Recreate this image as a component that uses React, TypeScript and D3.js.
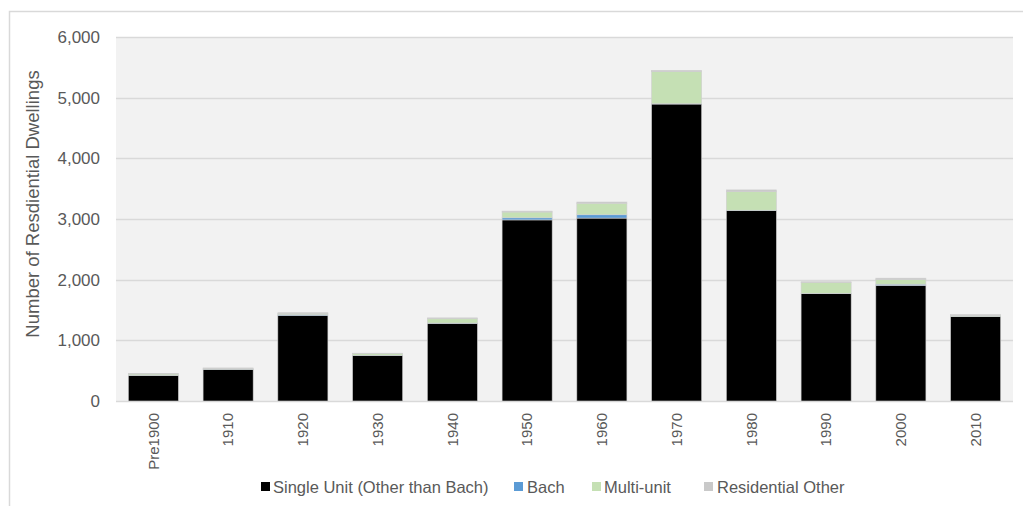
import React from "react";
import * as d3 from "d3";

// Decades of construction
const categories = ["Pre1900", "1910", "1920", "1930", "1940", "1950", "1960", "1970", "1980", "1990", "2000", "2010"];

// Dwelling counts per series
const singleUnit = [420, 520, 1410, 750, 1280, 2985, 3015, 4895, 3140, 1770, 1905, 1390];
const bach = [5, 5, 15, 5, 5, 35, 55, 5, 5, 5, 20, 5];
const multiUnit = [20, 12, 20, 25, 70, 95, 190, 530, 305, 180, 75, 15];
const residentialOther = [10, 8, 10, 8, 15, 15, 20, 20, 30, 10, 25, 15];

const seriesNames = ["Single Unit (Other than Bach)", "Bach", "Multi-unit", "Residential Other"];
const seriesColors = ["#000000", "#5b9bd5", "#c5e0b4", "#c9c9c9"];
const yTicks = [0, 1000, 2000, 3000, 4000, 5000, 6000];
const yTitle = "Number of Resdiential Dwellings";

const W = 1023;
const H = 506;
const plot = { left: 116, right: 1013, top: 37, bottom: 401 };
const FONT = "'Liberation Sans', Arial, sans-serif";
const TEXT = "#595959";

export default function App() {
  const rows = categories.map((c, i) => ({
    cat: c,
    s0: singleUnit[i],
    s1: bach[i],
    s2: multiUnit[i],
    s3: residentialOther[i],
  }));
  const keys = ["s0", "s1", "s2", "s3"];
  const stacked = d3.stack<any>().keys(keys)(rows);

  const x = d3
    .scaleBand<string>()
    .domain(categories)
    .range([plot.left, plot.right])
    .paddingInner(0.33)
    .paddingOuter(0.165);
  const y = d3.scaleLinear().domain([0, 6000]).range([plot.bottom, plot.top]);
  const fmt = d3.format(",");

  const legendItems = [
    { sq: 261, tx: 273 },
    { sq: 514, tx: 527 },
    { sq: 592, tx: 604 },
    { sq: 704, tx: 717 },
  ];

  return (
    <svg
      width={W}
      height={H}
      style={{ position: "absolute", left: 0, top: 0, background: "#ffffff" }}
      fontFamily={FONT}
    >
      <rect x={9.5} y={11.5} width={W + 10} height={H + 10} fill="#ffffff" stroke="#d9d9d9" strokeWidth={1.5} />
      <rect
        x={plot.left}
        y={plot.top}
        width={plot.right - plot.left}
        height={plot.bottom - plot.top}
        fill="#f2f2f2"
      />
      {yTicks.map((t) => (
        <g key={t}>
          <line
            x1={plot.left}
            x2={plot.right}
            y1={Math.round(y(t)) + 0.5}
            y2={Math.round(y(t)) + 0.5}
            stroke="#d9d9d9"
            strokeWidth={1.5}
          />
          <text
            x={100}
            y={y(t)}
            dy="0.35em"
            textAnchor="end"
            fontSize={17}
            fill={TEXT}
          >
            {fmt(t)}
          </text>
        </g>
      ))}
      {stacked.map((layer, li) => (
        <g key={li} fill={seriesColors[li]}>
          {layer.map((d: any, i: number) => (
            <rect
              key={i}
              x={x(categories[i])}
              width={x.bandwidth()}
              y={y(d[1])}
              height={Math.max(0, y(d[0]) - y(d[1]))}
              stroke="#cfcfcf"
              strokeWidth={0.6}
            />
          ))}
        </g>
      ))}
      {categories.map((c) => {
        const cx = (x(c) as number) + x.bandwidth() / 2;
        return (
          <text
            key={c}
            transform={`translate(${cx},${plot.bottom + 12}) rotate(-90)`}
            textAnchor="end"
            dy="0.35em"
            fontSize={15}
            fill={TEXT}
          >
            {c}
          </text>
        );
      })}
      <text
        transform={`translate(33,204) rotate(-90)`}
        textAnchor="middle"
        dy="0.35em"
        fontSize={18.5}
        fill={TEXT}
      >
        {yTitle}
      </text>
      {seriesNames.map((n, i) => (
        <g key={n}>
          <rect x={legendItems[i].sq} y={482} width={9} height={9} fill={seriesColors[i]} />
          <text x={legendItems[i].tx} y={487} dy="0.35em" fontSize={16.5} fill={TEXT}>
            {n}
          </text>
        </g>
      ))}
    </svg>
  );
}
